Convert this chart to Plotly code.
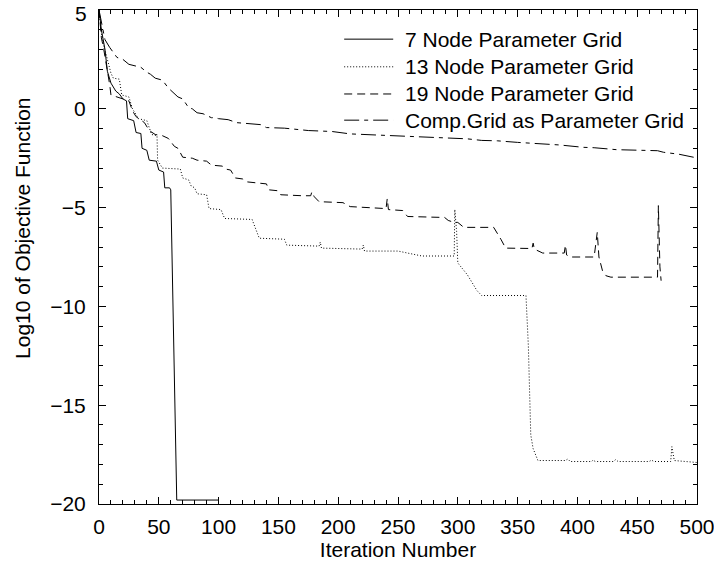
import plotly.graph_objects as go

# ---- data ----
it7 = [0, 2, 5, 7, 10, 14, 17, 20, 23, 24, 29, 31, 35, 36, 40, 42, 48, 50, 54, 55, 59, 60, 65, 100]
v7 = [5.0, 4.0, 3.0, 1.9, 1.3, 0.9, 0.75, 0.5, 0.4, -0.5, -0.6, -1.2, -1.25, -2.0, -2.1, -2.6, -2.65, -3.1, -3.2, -4.0, -4.0, -4.1, -19.8, -19.8]

it13 = [0, 2, 4, 7, 10, 12, 17, 19, 25, 28, 33, 40, 42, 44, 48.5, 49, 53, 68, 70, 75, 77, 80, 82, 90, 92, 102, 105,
        128, 134, 155, 157, 184, 185, 186, 220, 221, 222, 250, 270, 297, 297.5, 299, 300, 308, 316, 320, 357,
        359, 361, 363, 367, 390, 392, 394, 412, 413, 415, 430, 432, 434, 460, 462, 464, 478, 479, 481, 500]
v13 = [5.0, 3.8, 3.2, 2.5, 1.8, 1.55, 1.5, 0.7, 0.6, 0.0, -0.5, -0.6, -1.0, -1.3, -1.36, -2.6, -3.0, -3.05, -3.5, -3.6, -3.9, -4.0, -4.3, -4.35, -5.05, -5.1, -5.55,
       -5.6, -6.55, -6.6, -6.9, -6.95, -6.75, -7.05, -7.1, -6.9, -7.2, -7.2, -7.45, -7.45, -5.1, -6.2, -7.8, -8.4, -9.2, -9.45, -9.45,
       -12.0, -16.5, -17.2, -17.8, -17.8, -17.72, -17.85, -17.85, -17.78, -17.85, -17.85, -17.75, -17.85, -17.85, -17.78, -17.85, -17.85, -17.1, -17.8, -17.9]

it19 = [0, 2, 4, 7, 9, 10, 15, 20, 25, 28, 31, 38, 42, 47, 53, 58, 63, 66, 70, 78, 82, 90, 94, 103, 106, 110, 114, 120,
        124, 140, 142, 150, 152, 170, 177, 178, 180, 184, 204, 210, 240, 241, 242, 254, 258, 289, 292, 297, 300, 305,
        330, 336, 340, 362, 363, 364, 371, 389, 390, 391, 394, 414, 416.6, 418, 421, 424, 428, 467, 467.7, 469, 470]
v19 = [5.0, 3.6, 3.0, 2.0, 1.2, 0.7, 0.6, 0.5, 0.4, -0.1, -0.4, -0.7, -1.1, -1.3, -1.36, -1.5, -1.9, -2.0, -2.45, -2.5, -2.6, -2.65, -2.85, -2.9, -3.05, -3.1, -3.5, -3.55,
       -3.7, -3.8, -4.1, -4.15, -4.35, -4.4, -4.4, -4.2, -4.45, -4.7, -4.75, -4.95, -5.05, -4.55, -5.1, -5.15, -5.45, -5.5, -5.65, -5.75, -5.75, -6.0,
       -6.0, -6.6, -7.05, -7.07, -6.8, -7.1, -7.3, -7.3, -6.9, -7.4, -7.5, -7.5, -6.25, -7.5, -8.2, -8.45, -8.52, -8.52, -4.9, -8.0, -8.7]

itc = [0, 3, 5, 9, 15, 20, 25, 35, 40, 43, 47, 53, 58, 66, 70, 75, 78, 82, 87, 94, 97, 100, 108, 115, 120, 125, 135,
       140, 155, 175, 185, 195, 210, 222, 240, 252, 268, 280, 300, 308, 320, 333, 350, 357, 375, 385, 405, 414,
       433, 441, 447, 467, 472, 485, 497, 500]
vc = [5.0, 4.0, 3.5, 3.1, 2.6, 2.5, 2.25, 2.1, 1.85, 1.75, 1.55, 1.45, 1.05, 0.6, 0.5, 0.05, 0.0, -0.2, -0.25, -0.45, -0.45, -0.5, -0.55, -0.7, -0.72, -0.76, -0.8,
      -0.95, -0.98, -1.1, -1.12, -1.15, -1.27, -1.3, -1.36, -1.4, -1.45, -1.47, -1.5, -1.52, -1.6, -1.62, -1.7, -1.72, -1.8, -1.83, -1.95, -1.97,
      -2.07, -2.08, -2.1, -2.12, -2.2, -2.3, -2.45, -2.5]

names = ["7 Node Parameter Grid", "13 Node Parameter Grid", "19 Node Parameter Grid", "Comp.Grid as Parameter Grid"]
x_ticks = [0, 50, 100, 150, 200, 250, 300, 350, 400, 450, 500]
y_ticks = [-20, -15, -10, -5, 0, 5]
x_title = "Iteration Number"
y_title = "Log10 of Objective Function"

dashes = ["solid", "1px,2px", "8px,5px", "15px,5px,4px,5px"]
series = [(it7, v7), (it13, v13), (it19, v19), (itc, vc)]

FONT = "Liberation Sans, Arial, Helvetica, sans-serif"
FS = 21


def ylab(t):
    return ("−" + str(-t)) if t < 0 else str(t)


fig = go.Figure()
for (xs, ys), nm, ds in zip(series, names, dashes):
    fig.add_trace(go.Scatter(x=xs, y=ys, mode="lines", name=nm, showlegend=False,
                             line=dict(color="black", width=1, dash=ds)))

# legend drawn as key lines + labels in paper coordinates (top right, inside plot)
leg_x0, leg_x1, leg_tx = 0.41, 0.492, 0.508
leg_rows = [0.941, 0.885, 0.830, 0.777]
for nm, ds, yy in zip(names, dashes, leg_rows):
    fig.add_shape(type="line", xref="paper", yref="paper", x0=leg_x0, x1=leg_x1, y0=yy, y1=yy,
                  line=dict(color="black", width=1, dash=ds))
    fig.add_annotation(xref="paper", yref="paper", x=leg_tx, y=yy, text=nm, showarrow=False,
                       xanchor="left", yanchor="middle",
                       font=dict(family=FONT, size=FS, color="black"))

# y axis title, placed as in the reference (left of tick labels, slightly above centre)
fig.add_annotation(xref="paper", yref="paper", x=-0.1288, y=0.5587, text=y_title, showarrow=False,
                   textangle=-90, xanchor="center", yanchor="middle",
                   font=dict(family=FONT, size=FS, color="black"))

# top y tick label kept fully inside the page (hanging from the top edge)
fig.add_annotation(xref="paper", yref="paper", x=-0.0167, y=1.0202, text=ylab(y_ticks[-1]),
                   showarrow=False, xanchor="right", yanchor="top",
                   font=dict(family=FONT, size=FS, color="black"))

axis_common = dict(
    showgrid=False, zeroline=False, showline=True, linecolor="black", linewidth=1,
    mirror="allticks", ticks="inside", ticklen=7, tickwidth=1, tickcolor="black",
    tickfont=dict(family=FONT, size=FS, color="black"), automargin=False,
    ticklabeloverflow="allow",
)

fig.update_xaxes(range=[0, 500], tickvals=x_ticks, ticktext=[str(t) for t in x_ticks],
                 minor=dict(dtick=10, ticks="inside", ticklen=4, tickcolor="black", tickwidth=1, showgrid=False),
                 title=dict(text=x_title, font=dict(family=FONT, size=FS, color="black"), standoff=4),
                 ticklabelstandoff=4,
                 **axis_common)
fig.update_yaxes(range=[-20, 5], tickvals=y_ticks,
                 ticktext=[ylab(t) if t != y_ticks[-1] else "" for t in y_ticks],
                 minor=dict(dtick=1, ticks="inside", ticklen=4, tickcolor="black", tickwidth=1, showgrid=False),
                 ticklabelstandoff=8,
                 **axis_common)

fig.update_layout(
    width=714, height=562,
    margin=dict(l=99, r=17, t=10, b=58, pad=0),
    paper_bgcolor="white", plot_bgcolor="white",
    font=dict(family=FONT, size=FS, color="black"),
    showlegend=False,
)

fig.write_html("out.html")
